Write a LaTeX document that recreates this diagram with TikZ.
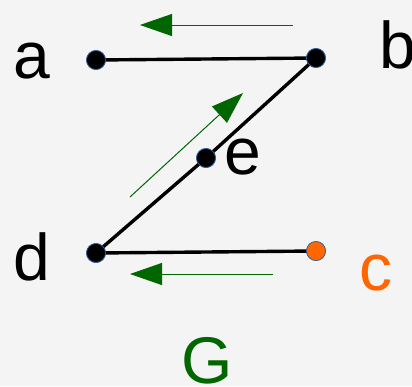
\documentclass[tikz,border=0pt]{standalone}
\usepackage{fontspec}
\setmainfont{Liberation Sans}
\usetikzlibrary{arrows.meta}
\definecolor{bg}{HTML}{F4F4F4}
\definecolor{dkgreen}{HTML}{006600}
\definecolor{orng}{HTML}{FF6600}
\definecolor{rim}{HTML}{3465A4}
\tikzset{
  dot/.style={circle, inner sep=0pt, minimum size=19pt, fill=black, draw=rim, line width=0.7pt},
  edge/.style={line width=3.4pt, black},
  garrow/.style={dkgreen, line width=1pt, -{Triangle[length=32pt,width=22pt]}},
  lbl/.style={anchor=base west, inner sep=0pt, font=\fontsize{66}{70}\selectfont}
}
\begin{document}
\begin{tikzpicture}[x=1pt,y=-1pt]
\fill[bg] (0,0) rectangle (412,386);
\useasboundingbox (0,0) rectangle (412,386);
\node[dot] (a) at (96,60) {};
\node[dot] (b) at (316,58) {};
\node[dot] (e) at (206,158) {};
\node[dot] (d) at (96,253) {};
\node[dot, fill=orng] (c) at (316,251) {};
\draw[edge] (a.center) -- (b.center);
\draw[edge] (b.center) -- (e.center);
\draw[edge] (e.center) -- (d.center);
\draw[edge] (d.center) -- (c.center);
\node[dot] at (a) {};
\node[dot] at (b) {};
\node[dot] at (e) {};
\node[dot] at (d) {};
\node[dot, fill=orng] at (c) {};
\node[lbl] (la) at (13,78) {a};
\node[lbl] (lb) at (379,68) {b};
\node[lbl] (le) at (224,174) {e};
\node[lbl] (ld) at (13,280) {d};
\node[lbl, text=orng] (lc) at (359,290) {c};
\node[lbl, text=dkgreen] (lg) at (181,383) {G};
\coordinate (t1) at (293,25);
\coordinate (h1) at (140,25);
\coordinate (t2) at (130,197);
\coordinate (h2) at (243,93);
\coordinate (t3) at (273,274);
\coordinate (h3) at (130,274);
\draw[garrow] (t1) -- (h1);
\draw[garrow] (t2) -- (h2);
\draw[garrow] (t3) -- (h3);
\end{tikzpicture}
\end{document}
